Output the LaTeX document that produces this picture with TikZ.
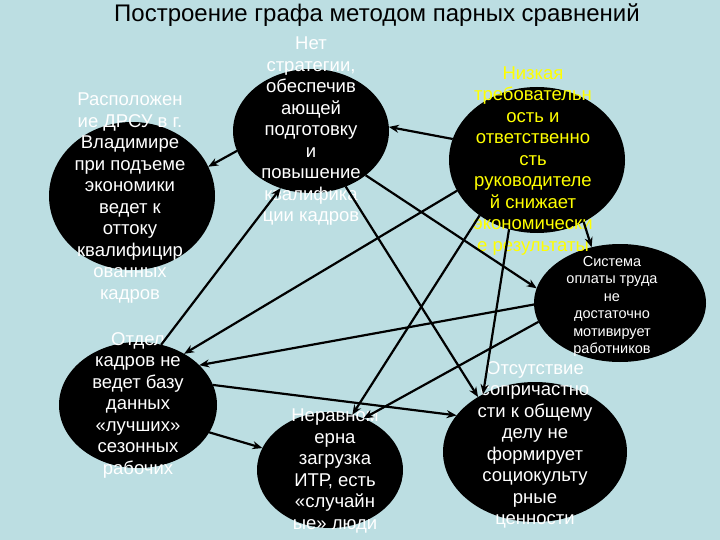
\documentclass[tikz,border=0pt]{standalone}
\usepackage{fontspec}
\setmainfont{Liberation Sans}
\usetikzlibrary{shapes.geometric, arrows.meta}
\definecolor{slidebg}{RGB}{188,222,226}
\definecolor{lowyellow}{RGB}{255,255,0}

\begin{document}
\begin{tikzpicture}[x=1pt, y=-1pt,
    blob/.style={ellipse, fill=black, inner sep=0pt, outer sep=0pt},
    blobtext/.style={align=center, text=white, inner sep=0pt, font=\fontsize{18.5}{21.5}\selectfont},
    conn/.style={-{Stealth[length=10pt,width=8pt]}, line width=2.2pt}]
    \fill[slidebg] (0,0) rectangle (720,540);
    \useasboundingbox (0,0) rectangle (720,540);
    \node (Title) at (377,15) {\fontsize{24}{28}\selectfont Построение графа методом парных сравнений};

    \node[blob, minimum width=166pt, minimum height=148pt] (Loc) at (132,196) {};
    \node[blob, minimum width=156pt, minimum height=124pt] (Strat) at (311,131) {};
    \node[blob, minimum width=176pt, minimum height=146pt] (Req) at (537,160) {};
    \node[blob, minimum width=172pt, minimum height=118pt] (Pay) at (620,303) {};
    \node[blob, minimum width=158pt, minimum height=126pt] (HR) at (138,405) {};
    \node[blob, minimum width=146pt, minimum height=116pt] (Load) at (330,470) {};
    \node[blob, minimum width=184pt, minimum height=140pt] (Part) at (535,452) {};

    \node[blobtext] (LocText) at (130,198) {Расположен\\ие ДРСУ в г.\\Владимире\\при подъеме\\экономики\\ведет к\\оттоку\\квалифицир\\ованных\\кадров};
    \node[blobtext] (StratText) at (311,131.5) {Нет\\стратегии,\\обеспечив\\ающей\\подготовку\\и\\повышение\\квалифика\\ции кадров};
    \node[blobtext, text=lowyellow] (ReqText) at (533,161) {Низкая\\требовательн\\ость и\\ответственно\\сть\\руководителе\\й снижает\\экономически\\е результаты};
    \node[blobtext, font=\fontsize{14.5}{17.4}\selectfont] (PayText) at (612,306.5) {Система\\оплаты труда\\не\\достаточно\\мотивирует\\работников};
    \node[blobtext] (HRText) at (138,405) {Отдел\\кадров не\\ведет базу\\данных\\«лучших»\\сезонных\\рабочих};
    \node[blobtext] (LoadText) at (335,471) {Неравном\\ерна\\загрузка\\ИТР, есть\\«случайн\\ые» люди};
    \node[blobtext] (PartText) at (535,445) {Отсутствие\\сопричастно\\сти к общему\\делу не\\формирует\\социокульту\\рные\\ценности};

    \draw[conn] (Req.166) -- (Strat.3);
    \draw[conn] (Strat.195) -- (Loc.21);
    \draw[conn] (HR.69) -- (Strat.242);
    \draw[conn] (Req.201) -- (HR.48);
    \draw[conn] (Pay.181) -- (HR.33);
    \draw[conn] (HR.15) -- (Part.155);
    \draw[conn] (HR.339) -- (Load.162);
    \draw[conn] (Req.224) -- (Load.68);
    \draw[conn] (Pay.193) -- (Load.57);
    \draw[conn] (Strat.321) -- (Pay.170);
    \draw[conn] (Strat.302) -- (Part.136);
    \draw[conn] (Req.248) -- (Part.132);
    \draw[conn] (Req.307) -- (Pay.117);
\end{tikzpicture}
\end{document}
